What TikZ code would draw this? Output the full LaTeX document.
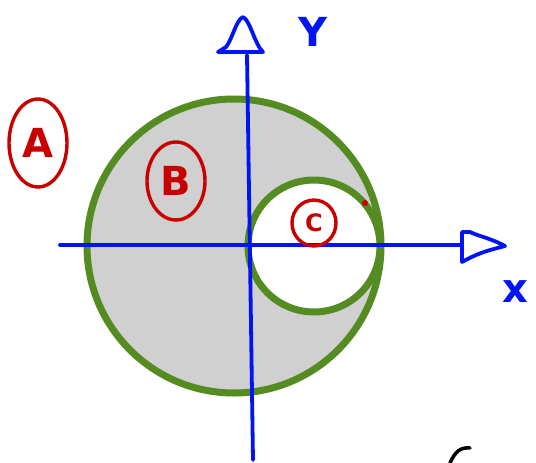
\documentclass[tikz,border=0pt]{standalone}
\usepackage{fontspec}
\setmainfont{DejaVu Sans}
\usetikzlibrary{shapes.geometric}
\begin{document}
\begin{tikzpicture}[x=1pt,y=-1pt,
  ring/.style={draw=ringgreen,line width=7pt},
  axis/.style={draw=axisblue,line width=3.8pt,line cap=round,line join=round},
  tag/.style={draw=tagred,line width=3.4pt,ellipse,inner sep=0pt,text=tagred},
  axlabel/.style={text=axisblue,font=\fontsize{40}{40}\selectfont\bfseries}]
\definecolor{ringgreen}{RGB}{84,140,34}
\definecolor{axisblue}{RGB}{0,20,245}
\definecolor{tagred}{RGB}{200,0,0}
\definecolor{fillgray}{RGB}{208,208,208}
\useasboundingbox (0,0) rectangle (536,463);
\fill[white] (0,0) rectangle (536,463);
% circles
\node[circle,ring,fill=fillgray,minimum size=294pt,inner sep=0pt] (big) at (234,246) {};
\node[circle,ring,fill=white,minimum size=132pt,inner sep=0pt] (small) at (314,246) {};
% axes
\coordinate (xs) at (60,245);
\coordinate (xe) at (462,245);
\draw[axis] (xs) -- (xe);
\draw[axis] (462,232) -- (462,262) .. controls (480,252) and (490,250) .. (505,246) .. controls (490,238) and (478,236) .. (470,232) -- cycle;
\coordinate (ys) at (253,460);
\coordinate (ye) at (247,55);
\draw[axis] (ys) -- (ye);
\draw[axis] (218,52) -- (263,52) .. controls (255,45) and (250,20) .. (243,17) .. controls (236,20) and (232,40) .. (226,47) -- cycle;
% axis labels
\node[axlabel] (ylab) at (313,32) {Y};
\node[axlabel] (xlab) at (515,292) {x};
% region tags
\node[tag,minimum width=58pt,minimum height=88pt,font=\fontsize{40}{40}\selectfont\bfseries] (A) at (38,143) {A};
\node[tag,minimum width=58pt,minimum height=78pt,font=\fontsize{40}{40}\selectfont\bfseries] (B) at (176,181) {B};
\node[tag,minimum width=44pt,minimum height=46pt,font=\fontsize{24}{24}\selectfont\bfseries] (C) at (314,223) {C};
\fill[tagred] (365,203) circle (3pt);
% partial stroke at bottom right
\draw[black,line width=3.5pt,line cap=round] (450,463) .. controls (455,452) and (460,447) .. (470,448);
\end{tikzpicture}
\end{document}
